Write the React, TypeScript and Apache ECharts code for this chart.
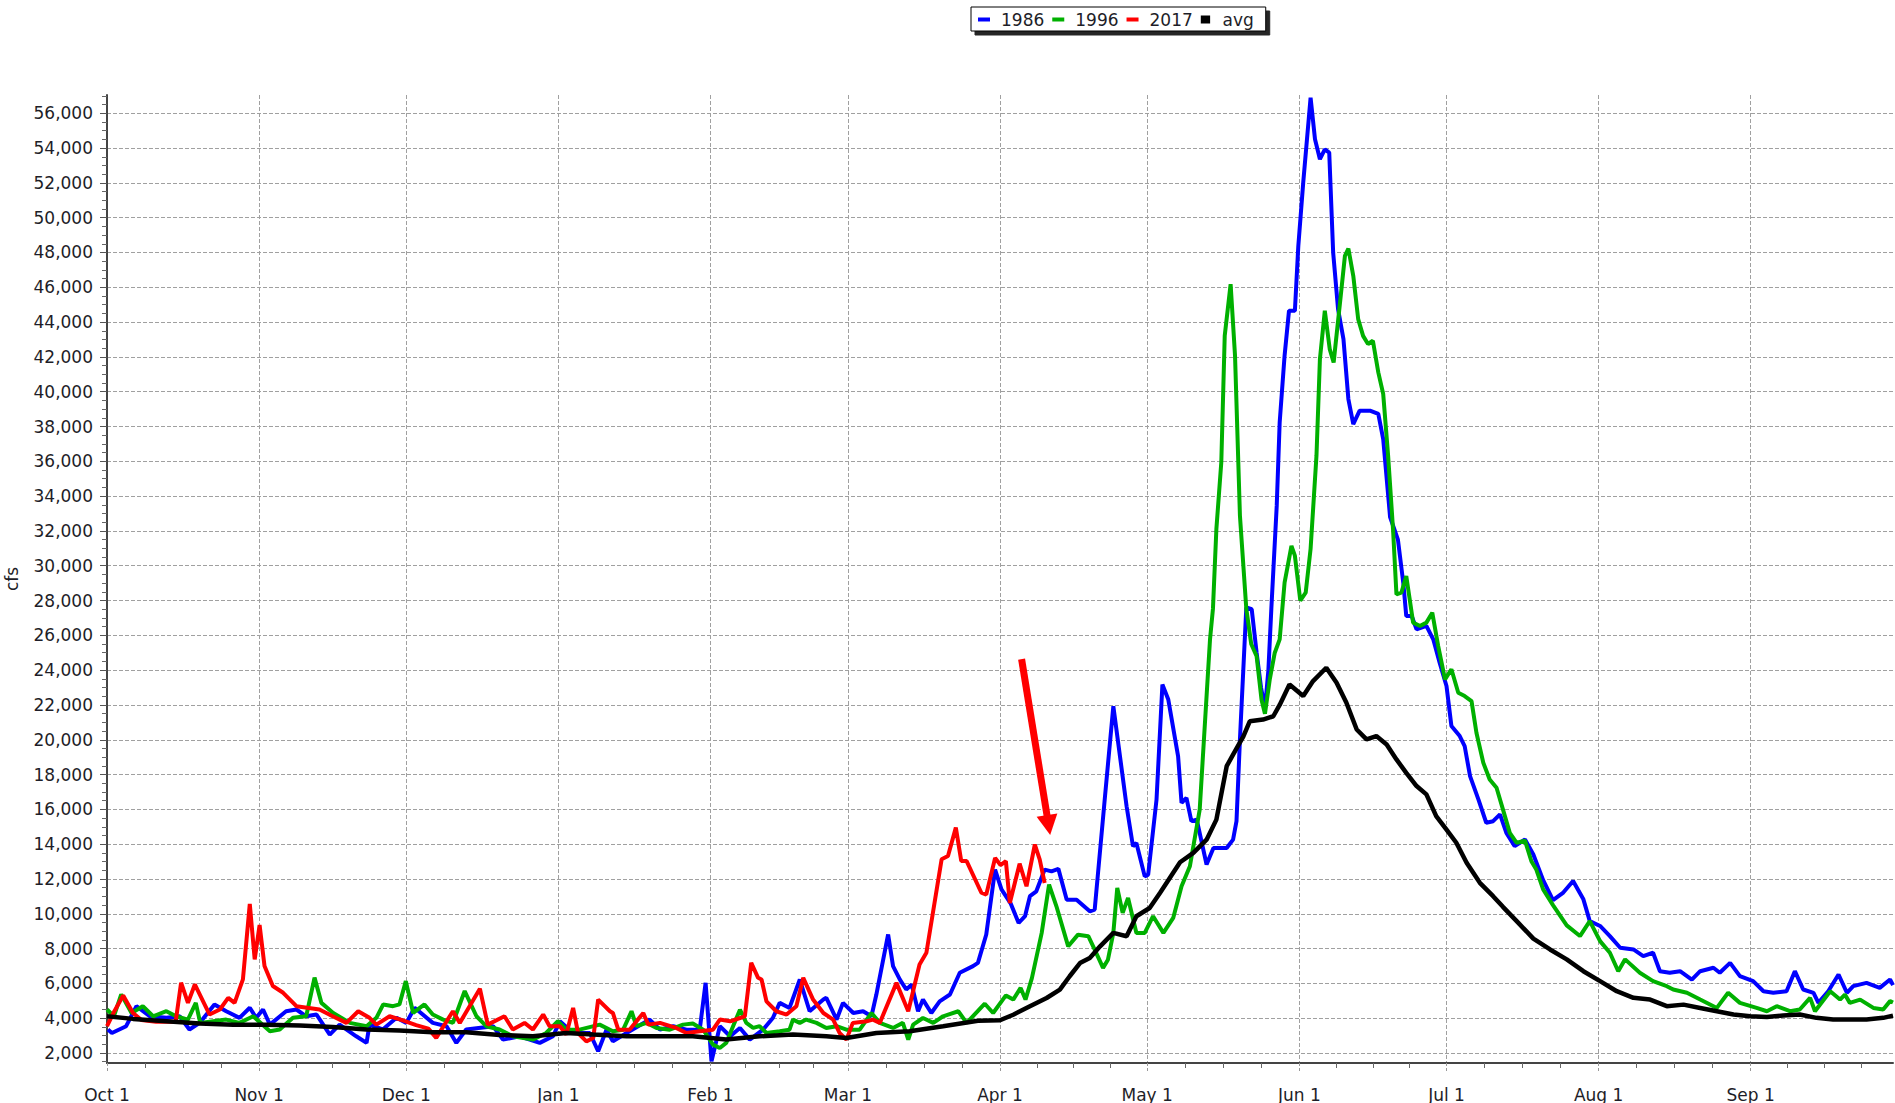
import React, { useEffect, useRef } from 'react';
import * as echarts from 'echarts';

// x axis: day of water year (0 = Oct 1)
const monthStarts = [0, 31, 61, 92, 123, 151, 182, 212, 243, 273, 304, 335];
const monthLabels = ['Oct 1', 'Nov 1', 'Dec 1', 'Jan 1', 'Feb 1', 'Mar 1', 'Apr 1', 'May 1', 'Jun 1', 'Jul 1', 'Aug 1', 'Sep 1'];
const lastDay = 364;

const yTicks = [2000, 4000, 6000, 8000, 10000, 12000, 14000, 16000, 18000, 20000, 22000, 24000, 26000, 28000,
  30000, 32000, 34000, 36000, 38000, 40000, 42000, 44000, 46000, 48000, 50000, 52000, 54000, 56000];
const yMin = 1425;
const yMax = 57050;

const seriesNames = ['1986', '1996', '2017', 'avg'];

const flow1986: [number, number][] = [
  [0.2, 3350], [1, 3150], [3.9, 3540], [6, 4690], [8.7, 4110], [12.1, 4020], [14.8, 4110], [16.8, 3350], [18.9, 3730],
  [21.9, 4790], [24.3, 4400], [27, 4020], [29.1, 4600], [30.4, 4020], [31.8, 4500], [33.2, 3630], [36.5, 4400],
  [38.6, 4500], [40.6, 4110], [42.7, 4210], [45.4, 3060], [47.4, 3630], [50.8, 2960], [52.9, 2580], [53.5, 3630],
  [56.2, 3350], [59, 4020], [61, 3730], [62.7, 4600], [66.4, 3730], [69.2, 3540], [71.2, 2580], [73.2, 3350],
  [78.7, 3540], [80.7, 2770], [84.1, 2960], [88.2, 2580], [90.9, 2960], [92.3, 3830], [95, 3150], [98.4, 3150],
  [100.1, 2100], [101.8, 3340], [103.1, 2670], [105.9, 3150], [110.6, 3920], [112.7, 3340], [115.4, 3540],
  [118.1, 3340], [120.8, 3340], [122, 6030], [123.2, 1520], [124.9, 3540], [127, 2960], [129, 3440], [131, 2770],
  [133.7, 3340], [135.7, 4010], [137.1, 4880], [139.1, 4590], [141.2, 6220], [143.2, 4400], [146, 5070],
  [146.6, 5170], [148.7, 3920], [150, 4880], [152.1, 4300], [154.1, 4400], [155.8, 4110], [156.8, 5360],
  [159.2, 8810], [160.2, 6990], [161.6, 6220], [162.9, 5650], [164, 5930], [165.3, 4400], [166.3, 5070], [168, 4300],
  [169.7, 4970], [171.8, 5360], [173.8, 6610], [176.5, 6990], [177.5, 7180], [179.2, 8810], [181, 12540],
  [182.3, 11400], [184.2, 10580], [185.8, 9470], [187.1, 9860], [188.1, 11010], [189.4, 11290], [191.1, 12540],
  [192.5, 12440], [193.9, 12580], [195.6, 10810], [197.6, 10810], [200.3, 10140], [201.3, 10240], [203.4, 16750],
  [205.1, 21930], [207.8, 16180], [209.1, 13880], [209.8, 14070], [211.5, 12150], [212.2, 12250], [213.9, 16560],
  [215.1, 23170], [216.3, 22310], [218.3, 19050], [219, 16370], [220, 16660], [221, 15320], [222.1, 15410],
  [224.1, 12830], [225.5, 13780], [228.2, 13780], [229.5, 14260], [230.2, 15320], [230.9, 20010], [232.2, 27600],
  [233.3, 27500], [234.3, 25000], [235.2, 23000], [236, 21800], [236.7, 24000], [237.3, 27520], [238.4, 33450],
  [239, 38240], [240, 42070], [240.9, 44650], [242.1, 44650], [242.8, 48380], [243.8, 52020], [245.3, 56900],
  [246.2, 54510], [247.2, 53360], [248.2, 53930], [249.1, 53740], [249.9, 48000], [250.9, 44750], [252, 43020],
  [253, 39580], [254, 38140], [255.3, 38910], [257.4, 38910], [259.1, 38720], [260.1, 37280], [261.5, 32800],
  [263.1, 31500], [264.2, 29000], [264.8, 27110], [265.9, 27110], [266.9, 26350], [268.9, 26540], [270.3, 25770],
  [271.6, 24430], [273, 23090], [274, 20790], [275.7, 20210], [276.7, 19640], [277.8, 17910], [279.5, 16570],
  [281.1, 15230], [282.5, 15320], [283.9, 15710], [285.2, 14650], [286.9, 13890], [289, 14270], [290.7, 13410],
  [292.7, 11930], [294.7, 10780], [296.8, 11220], [298.8, 11880], [300.9, 10830], [302.2, 9580], [304.3, 9300],
  [306.3, 8720], [308.4, 8050], [311.1, 7950], [313.1, 7570], [315.1, 7760], [316.5, 6700], [318.5, 6610],
  [320.6, 6700], [323, 6220], [324.7, 6700], [327.4, 6900], [328.7, 6610], [330.8, 7180], [332.8, 6420],
  [335.5, 6130], [337.6, 5550], [339.6, 5460], [342.3, 5550], [344, 6700], [345.7, 5650], [347.8, 5460],
  [348.8, 4880], [350.8, 5550], [352.9, 6510], [354.6, 5460], [355.9, 5840], [358.6, 6030], [361.3, 5740],
  [363.4, 6220], [364, 5900],
];

const flow1996: [number, number][] = [
  [0, 4500], [1.4, 4110], [2.9, 5370], [5, 4300], [7.3, 4690], [9.4, 4110], [12.1, 4400], [14.1, 4110], [16.5, 3920],
  [18.1, 4880], [19, 3730], [24.3, 3920], [27, 3730], [29.8, 4110], [33.2, 3250], [35.2, 3350], [37.9, 4020],
  [40.6, 4110], [42.3, 6330], [43.7, 4880], [46.1, 4300], [49.5, 3730], [52.9, 3540], [54.9, 4020], [56.3, 4790],
  [58.3, 4690], [59.6, 4790], [60.9, 6130], [62.4, 4300], [64.7, 4790], [66.4, 4210], [68.5, 3920], [70.5, 3730],
  [72.9, 5560], [75.3, 4110], [77.3, 3540], [80, 3350], [82.7, 2960], [86.8, 2770], [89.5, 3150], [91.9, 3830],
  [93.6, 3340], [96.3, 3340], [100.4, 3630], [103.1, 3250], [105.2, 3340], [106.9, 4400], [107.9, 3540], [110, 3730],
  [112, 3440], [114.7, 3340], [117.4, 3630], [119.4, 3690], [121.5, 3340], [123.5, 2480], [124.9, 2290],
  [126.2, 2580], [127.6, 3540], [129, 4490], [130.3, 3730], [131.7, 3440], [133, 3540], [134.4, 3150], [137.1, 3250],
  [139.1, 3340], [139.8, 3920], [141.2, 3730], [142.5, 3920], [144.6, 3730], [146.6, 3440], [148.7, 3540],
  [150.7, 3340], [153.4, 3340], [155.8, 4300], [157.5, 3730], [160.2, 3440], [162.2, 3730], [163.3, 2770],
  [164.3, 3630], [166.3, 4010], [168.4, 3730], [170.4, 4110], [173.5, 4400], [175.2, 3730], [178.9, 4830],
  [180.6, 4300], [183.2, 5310], [184.7, 5070], [186.2, 5740], [187.2, 5070], [188.5, 6300], [190.5, 8900],
  [192, 11680], [193.5, 10430], [195.9, 8130], [197.9, 8800], [200, 8710], [201.3, 7940], [203, 6890], [204, 7360],
  [205.1, 8900], [205.9, 11480], [207, 10050], [208.1, 10910], [209.8, 8900], [211.5, 8900], [213.2, 9860],
  [215.3, 8900], [217.3, 9760], [219, 11580], [220.7, 12730], [222.7, 15990], [224.8, 25760], [225.4, 27520],
  [226.1, 32110], [227.1, 35940], [227.8, 43210], [229, 46180], [229.9, 42070], [230.9, 32880], [232.2, 27520],
  [233.2, 25500], [234.3, 24800], [235.3, 22300], [236, 21500], [237, 23500], [238, 25000], [239, 25770],
  [240, 29030], [241.4, 31140], [242.1, 30580], [243.2, 28000], [244.3, 28450], [245.3, 30970], [246.5, 36320],
  [247.2, 41870], [248.2, 44650], [249.2, 42450], [250, 41680], [251.3, 45130], [252.3, 47810], [253, 48230],
  [254, 46660], [255, 44170], [256, 43210], [257, 42740], [258, 42930], [259.1, 41110], [260.1, 39870],
  [261.1, 36320], [262.1, 32110], [262.8, 28360], [263.8, 28450], [264.8, 29410], [266.2, 26730], [267.6, 26540],
  [268.9, 26730], [270.1, 27300], [271.3, 25390], [272.7, 23470], [274, 24050], [275.4, 22700], [276.7, 22510],
  [278.1, 22220], [279.1, 20400], [280.5, 18680], [281.8, 17720], [283.2, 17240], [284.5, 16000], [285.9, 14650],
  [287.3, 14080], [289, 14200], [290.3, 13020], [291.3, 12540], [292.7, 11400], [294.7, 10500], [297.5, 9330],
  [300.2, 8720], [302.2, 9580], [304.3, 8430], [306.3, 7760], [308, 6700], [309.4, 7380], [312.4, 6610],
  [315.1, 6130], [317.9, 5840], [319.2, 5650], [322, 5460], [324.7, 5070], [328.1, 4590], [330.4, 5460],
  [332.8, 4880], [336.2, 4590], [338.3, 4400], [340.3, 4690], [343, 4400], [345, 4500], [347.1, 5170], [348.1, 4400],
  [351.2, 5550], [353.2, 5070], [354.2, 5360], [355.2, 4880], [357.3, 5070], [360, 4590], [362, 4500],
  [363.4, 4980], [364, 4900],
];

const flow2017: [number, number][] = [
  [0, 3540], [1.5, 4400], [3.3, 5300], [5.3, 4300], [7, 3900], [10, 3800], [14, 3800], [15.1, 6040], [16.5, 4880],
  [17.9, 5940], [20.9, 4210], [23, 4500], [24.7, 5170], [26, 4880], [27.7, 6230], [29.1, 10560], [30.1, 7380],
  [31.1, 9350], [32.1, 7000], [33.8, 5850], [35.9, 5460], [38.6, 4690], [43.3, 4500], [46, 4110], [48.8, 3730],
  [51.2, 4400], [53.5, 4020], [54.9, 3630], [57.6, 4110], [60, 3900], [63, 3600], [65.5, 3400], [67.1, 2870],
  [70.5, 4400], [71.9, 3730], [76, 5690], [77.6, 3630], [81, 4110], [82.7, 3350], [85.1, 3730], [86.8, 3350],
  [88.9, 4210], [90.2, 3540], [92.3, 3540], [93.6, 3060], [95, 4590], [96, 3150], [97.7, 2670], [99.1, 2860],
  [100.1, 5070], [102.5, 4400], [103.1, 4300], [104.2, 3340], [106.5, 3340], [109.3, 4300], [110.3, 3630],
  [112.7, 3730], [116, 3440], [118.1, 3150], [120.8, 3250], [123.5, 3340], [124.9, 3920], [127, 3820], [129, 4010],
  [130, 4110], [131.3, 7180], [132.7, 6320], [133.4, 6220], [134.4, 4970], [136.4, 4400], [138.5, 4210],
  [140.5, 4690], [141.9, 6320], [143.9, 5070], [146, 4300], [148, 3920], [149.3, 3150], [150.7, 2770], [152, 3730],
  [154.8, 3820], [156.1, 3920], [157.5, 3730], [160.9, 6030], [163.3, 4400], [165.6, 7090], [167, 7760],
  [170.1, 13130], [171.4, 13320], [173, 14950], [174.1, 13030], [175.2, 13030], [178.2, 11210], [179.2, 11100],
  [181, 13210], [182.1, 12800], [183.2, 13020], [184, 10620], [186, 12880], [187.4, 11580], [189.1, 13980],
  [190.1, 13110], [191.1, 11770],
];

const flowAvg: [number, number][] = [
  [0, 4110], [5.3, 3960], [12.1, 3830], [18.9, 3690], [25.7, 3630], [32.5, 3630], [39.3, 3580], [46, 3500],
  [52.9, 3350], [59.6, 3290], [66.4, 3190], [73.2, 3190], [80, 3040], [86.8, 2960], [93.6, 3150], [99.1, 3060],
  [105.9, 2960], [112.7, 2960], [119.4, 2960], [126.2, 2770], [133, 2960], [139.8, 3060], [146.6, 2960],
  [150.7, 2860], [156.8, 3150], [163.6, 3250], [170.4, 3540], [177.5, 3850], [182, 3880], [184.7, 4200],
  [188.1, 4680], [191.5, 5160], [194.2, 5640], [196.2, 6410], [198.3, 7170], [200.3, 7460], [202.4, 8130],
  [205.1, 8900], [207.8, 8710], [209.8, 9860], [212.5, 10330], [214.6, 11200], [216.6, 12060], [218.7, 12960],
  [221.4, 13500], [224.1, 14260], [226.1, 15410], [228.2, 18480], [229.5, 19150], [231.6, 20200], [232.9, 21060],
  [235.6, 21160], [237.7, 21350], [239, 22000], [241, 23180], [243.8, 22510], [245.8, 23370], [248.5, 24140],
  [250.6, 23280], [252.6, 22130], [254.7, 20590], [256.7, 20020], [258.7, 20210], [260.8, 19730], [262.8, 18870],
  [264.8, 18100], [266.9, 17340], [268.9, 16860], [270.9, 15610], [273, 14840], [275, 14080], [277.1, 12930],
  [279.8, 11780], [282.5, 11010], [284.5, 10400], [287.3, 9580], [290.7, 8570], [294.1, 7950], [297.5, 7380],
  [300.9, 6700], [304.3, 6130], [307.7, 5550], [311.1, 5170], [314.5, 5070], [317.9, 4690], [321.3, 4780],
  [324.7, 4590], [328.1, 4400], [331.5, 4210], [334.9, 4110], [338.3, 4070], [341.6, 4150], [345, 4210],
  [348.4, 4020], [351.8, 3920], [355.2, 3920], [358.6, 3920], [362, 4020], [364, 4150],
];

// annotation arrow (data coordinates: [day, cfs])
const arrowFrom: [number, number] = [186.4, 24630];
const arrowTo: [number, number] = [191.9, 15100];

const FONT = 'DejaVu Sans, Verdana, sans-serif';
const TEXT = '#1e1e28';
const GRID = '#a0a0a0';

function quarterMonthTicks(): number[] {
  const out: number[] = [];
  for (let i = 0; i < monthStarts.length; i++) {
    const s = monthStarts[i];
    const e = i + 1 < monthStarts.length ? monthStarts[i + 1] : 365;
    for (let k = 1; k < 4; k++) out.push(s + ((e - s) * k) / 4);
  }
  return out.filter((v) => v <= lastDay);
}

function minorYTicks(): number[] {
  const out: number[] = [];
  for (let v = 1500; v <= yMax; v += 500) if (v % 2000 !== 0) out.push(v);
  return out;
}

export default function App() {
  const ref = useRef<HTMLDivElement>(null);
  useEffect(() => {
    if (!ref.current) return;
    const chart = echarts.init(ref.current, undefined, { renderer: 'svg' });
    const colors = ['#0000ff', '#00b000', '#ff0000', '#000000'];
    const datasets = [flow1986, flow1996, flow2017, flowAvg];
    const series: any[] = seriesNames.map((name, i) => ({
      type: 'line',
      name,
      data: datasets[i],
      xAxisIndex: 0,
      yAxisIndex: 0,
      showSymbol: false,
      symbol: 'none',
      lineStyle: { color: colors[i], width: i === 3 ? 4.5 : 4 },
      itemStyle: { color: colors[i] },
      emphasis: { disabled: true },
      z: 2 + i,
    }));
    series[2].markLine = {
      silent: true,
      symbol: ['none', 'triangle'],
      symbolSize: [21, 20],
      label: { show: false },
      lineStyle: { color: '#ff0000', width: 7, type: 'solid' },
      itemStyle: { color: '#ff0000' },
      emphasis: { disabled: true },
      data: [[{ coord: arrowFrom }, { coord: arrowTo }]],
    };

    const labelStyle = { fontFamily: FONT, fontSize: 17, color: TEXT };

    chart.setOption({
      animation: false,
      backgroundColor: '#ffffff',
      grid: { left: 107, right: 2, top: 95, bottom: 40, containLabel: false, outerBoundsMode: 'none' },
      legend: {
        left: 971,
        top: 7,
        padding: [4, 12, 3, 7],
        itemGap: 8,
        itemWidth: 12,
        itemHeight: 8,
        backgroundColor: '#ffffff',
        borderColor: '#000000',
        borderWidth: 1,
        shadowColor: 'rgba(0,0,0,0.85)',
        shadowBlur: 1,
        shadowOffsetX: 4,
        shadowOffsetY: 4,
        selectedMode: false,
        textStyle: { fontFamily: FONT, fontSize: 17, color: TEXT, padding: [0, 0, 0, 6] },
        data: [
          { name: '1986', icon: 'path://M0,0H12V4H0Z' },
          { name: '1996', icon: 'path://M0,0H12V4H0Z' },
          { name: '2017', icon: 'path://M0,0H12V4H0Z' },
          { name: 'avg', icon: 'path://M0,0H7V6H0Z' },
        ],
      },
      xAxis: [
        {
          type: 'value',
          min: 0,
          max: lastDay,
          position: 'bottom',
          axisLine: { show: true, onZero: false, lineStyle: { color: '#444', width: 2 } },
          axisTick: { show: true, customValues: monthStarts, length: 8, lineStyle: { color: '#999', type: [3, 2] } },
          axisLabel: {
            customValues: monthStarts,
            formatter: (v: number) => {
              const i = monthStarts.indexOf(Math.round(v));
              return i >= 0 ? monthLabels[i] : '';
            },
            margin: 23,
            ...labelStyle,
          },
          splitLine: { show: true, lineStyle: { color: GRID, type: [4, 2], width: 1 } },
        },
        {
          type: 'value',
          min: 0,
          max: lastDay,
          position: 'bottom',
          axisLine: { show: false, onZero: false },
          axisTick: { show: true, customValues: quarterMonthTicks(), length: 5, lineStyle: { color: '#666', width: 1 } },
          axisLabel: { show: false },
          splitLine: { show: false },
        },
      ],
      yAxis: [
        {
          type: 'value',
          min: yMin,
          max: yMax,
          position: 'left',
          name: 'cfs',
          nameLocation: 'middle',
          nameGap: 87,
          nameTextStyle: { ...labelStyle },
          axisLine: { show: true, onZero: false, lineStyle: { color: '#444', width: 2 } },
          axisTick: { show: true, customValues: yTicks, length: 7, lineStyle: { color: '#555' } },
          axisLabel: {
            customValues: yTicks,
            formatter: (v: number) => Math.round(v).toLocaleString('en-US'),
            margin: 14,
            ...labelStyle,
          },
          splitLine: { show: true, lineStyle: { color: GRID, type: [4, 2], width: 1 } },
        },
        {
          type: 'value',
          min: yMin,
          max: yMax,
          position: 'left',
          axisLine: { show: false, onZero: false },
          axisTick: { show: true, customValues: minorYTicks(), length: 5, lineStyle: { color: '#666', width: 1 } },
          axisLabel: { show: false },
          splitLine: { show: false },
        },
      ],
      series,
    });
    return () => chart.dispose();
  }, []);

  return (
    <div
      ref={ref}
      style={{ position: 'absolute', left: 0, top: 0, width: 1895, height: 1103, background: '#fff' }}
    />
  );
}
